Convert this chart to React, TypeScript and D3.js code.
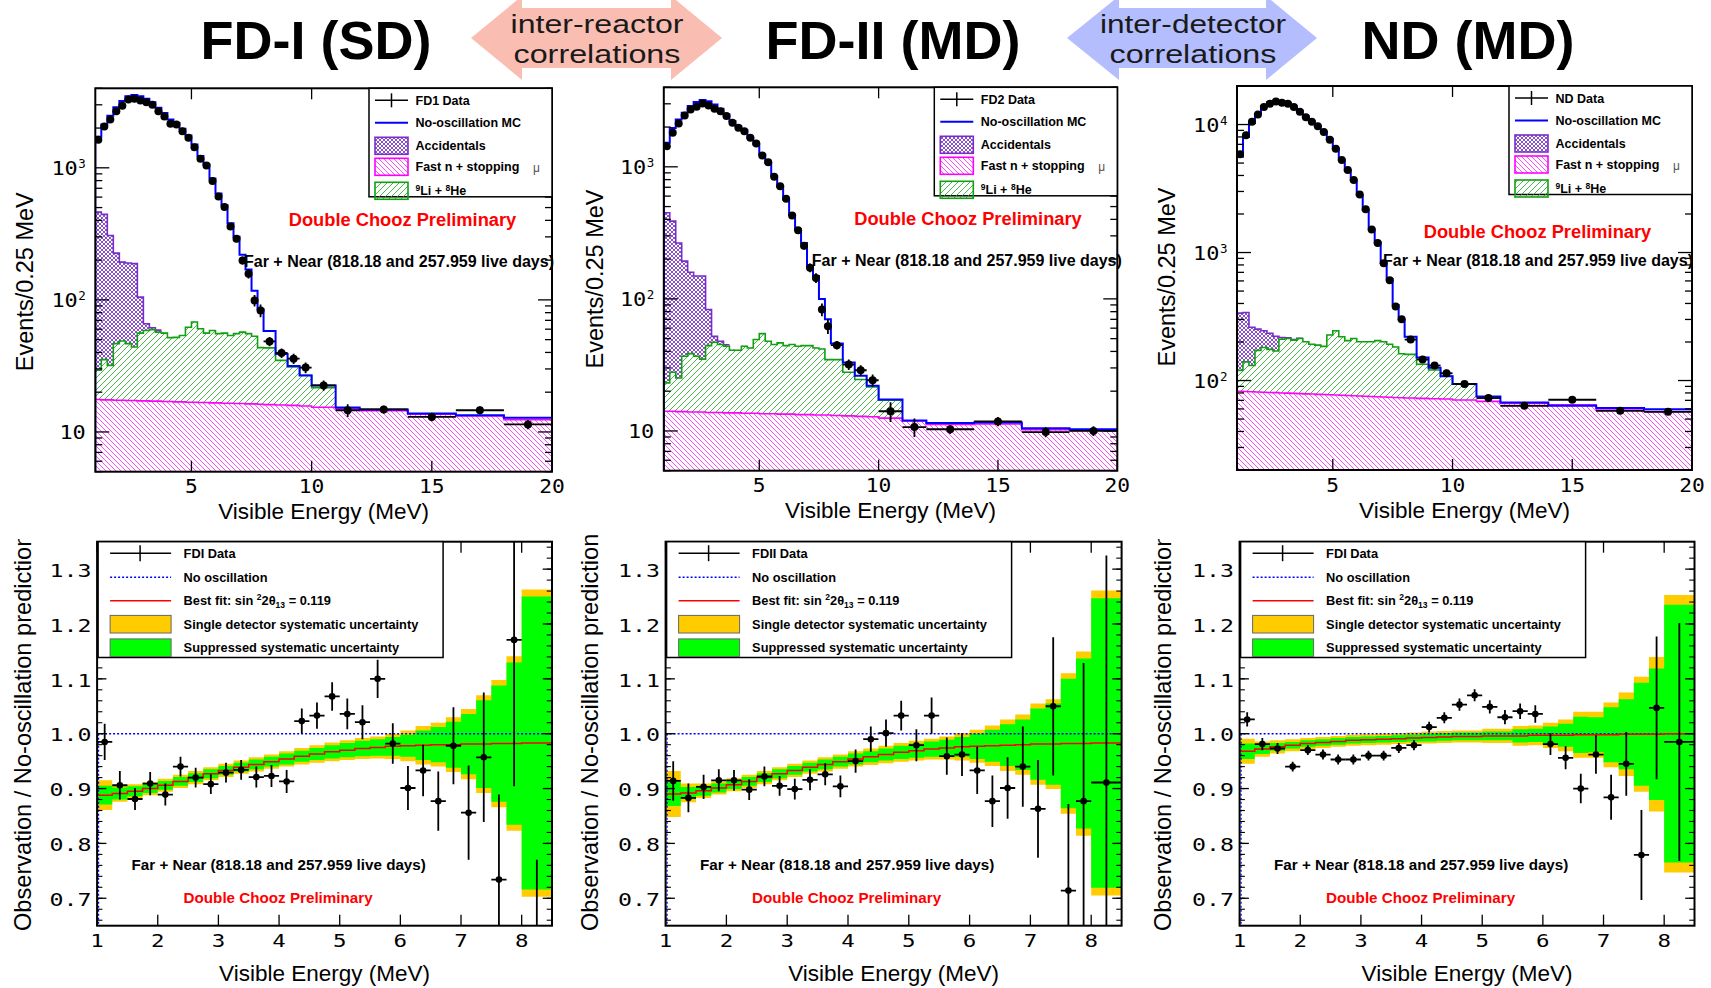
import React from "react";
import * as d3 from "d3";

const W = 1711;
const H = 988;
const SANS = "'Liberation Sans', Arial, Helvetica, sans-serif";
const MONO = "'DejaVu Sans Mono', 'Liberation Mono', monospace";

// ---------------- bin structure ----------------
const spectrumEdges = [1, 1.25, 1.5, 1.75, 2, 2.25, 2.5, 2.75, 3, 3.25, 3.5, 3.75, 4, 4.25, 4.5, 4.75, 5, 5.25, 5.5, 5.75, 6, 6.25, 6.5, 6.75, 7, 7.25, 7.5, 7.75, 8, 8.5, 9, 9.5, 10, 11, 12, 14, 16, 18, 20];
const ratioEdges = [1, 1.25, 1.5, 1.75, 2, 2.25, 2.5, 2.75, 3, 3.25, 3.5, 3.75, 4, 4.25, 4.5, 4.75, 5, 5.25, 5.5, 5.75, 6, 6.25, 6.5, 6.75, 7, 7.25, 7.5, 7.75, 8, 8.5];

const spectrumXTicks = [5, 10, 15, 20];
const ratioXTicks = [1, 2, 3, 4, 5, 6, 7, 8];
const ratioYTicks = [0.7, 0.8, 0.9, 1.0, 1.1, 1.2, 1.3];

// ---------------- FD-I spectrum ----------------
const fd1Data = [1630, 2055, 2323, 2685, 2945, 3288, 3328, 3228, 3138, 2997, 2685, 2446, 2152, 2128, 1893, 1686, 1433, 1170, 1041, 793, 607, 504, 360, 290, 199, 158, 99, 83, 48.5, 39.6, 35.9, 30.7, 22.5, 14.6, 14.8, 13.0, 14.6, 11.4];
const fd1Err = [40, 45, 48, 52, 54, 57, 58, 57, 56, 55, 52, 49, 46, 46, 44, 41, 38, 34, 32, 28, 25, 22, 19, 17, 14, 12.6, 10, 9.1, 3.9, 3.3, 3.2, 2.9, 2.0, 1.6, 1.0, 0.95, 1.0, 0.9];
const fd1MC = [1720, 2130, 2480, 2870, 3200, 3480, 3560, 3480, 3330, 3130, 2850, 2600, 2320, 2180, 1980, 1760, 1500, 1230, 1060, 830, 640, 520, 380, 300, 220, 170, 117, 85, 58, 39, 31.6, 26.8, 22.5, 15.3, 14.8, 13.8, 13.4, 12.8];
const fd1FastN = [17.6, 17.5, 17.5, 17.4, 17.4, 17.3, 17.3, 17.2, 17.2, 17.1, 17.1, 17.0, 17.0, 16.9, 16.9, 16.8, 16.8, 16.7, 16.7, 16.6, 16.6, 16.5, 16.5, 16.4, 16.4, 16.3, 16.3, 16.2, 16.1, 16.0, 15.9, 15.7, 15.4, 15.0, 14.5, 13.6, 13.2, 12.4];
const fd1LiHeLevel = [29.3, 35.3, 31.9, 46.6, 48.8, 46.6, 44, 56, 58.7, 59.5, 57, 56, 51.8, 52, 53.8, 62, 68, 60.5, 56, 58.7, 55.5, 56, 53.8, 55.5, 57, 55.5, 53, 43.5, 43.3, 34.8, 31, 26.9, 21.6, 15.0, 14.5, 13.6, 13.2, 12.4];
const fd1AccLevel = [462, 444, 307, 226, 193, 190, 188, 105, 66, 61.5, 59, 56.5, 52.2, 52.4, 54.2, 62.4, 68.4, 60.7, 56.2, 58.9, 55.6, 56.1, 53.9, 55.6, 57.1, 55.6, 53.1, 43.6, 43.4, 34.9, 31.1, 27.0, 21.7, 15.0, 14.5, 13.6, 13.2, 12.4];

// ---------------- FD-II spectrum ----------------
const fd2Data = [1434, 1811, 2128, 2449, 2718, 2850, 3020, 2917, 2750, 2640, 2420, 2155, 1972, 1862, 1660, 1503, 1219, 1085, 840, 714, 573, 428, 331, 253, 172, 144, 83, 62, 44.6, 31.8, 28.8, 24.2, 14.1, 10.7, 10.3, 11.8, 9.8, 10.0];
const fd2Err = [38, 43, 46, 49, 52, 53, 55, 54, 52, 51, 49, 46, 44, 43, 41, 39, 35, 33, 29, 27, 24, 21, 18, 16, 13, 12, 9.1, 7.9, 3.3, 2.9, 2.7, 2.5, 2.4, 1.7, 0.8, 0.95, 0.85, 0.85];
const fd2MC = [1520, 1970, 2280, 2570, 2885, 3090, 3200, 3140, 2965, 2750, 2490, 2220, 2030, 1895, 1660, 1476, 1240, 1072, 850, 714, 566, 435, 335, 265, 177, 149, 100, 70, 46, 33, 26.2, 22, 17.3, 12.0, 11.5, 11.6, 10.5, 10.3];
const fd2FastN = [14.1, 14.1, 14.0, 14.0, 13.9, 13.9, 13.9, 13.8, 13.8, 13.8, 13.7, 13.7, 13.7, 13.6, 13.6, 13.6, 13.5, 13.5, 13.5, 13.4, 13.4, 13.4, 13.3, 13.3, 13.3, 13.2, 13.2, 13.2, 13.1, 13.0, 12.9, 12.8, 12.5, 11.9, 11.2, 11.3, 10.2, 10.1];
const fd2LiHeLevel = [23.1, 27.8, 25.2, 36.8, 38.5, 36.8, 35, 44.3, 47, 45.1, 43.8, 40.8, 40.8, 43.8, 42.5, 49.2, 54.6, 47.8, 45.1, 46.4, 44.3, 45.1, 43.8, 44.3, 44.3, 42.5, 41.7, 34.7, 34.7, 27.8, 24.5, 21.5, 17.1, 11.9, 11.2, 11.3, 10.2, 10.1];
const fd2AccLevel = [449, 388, 265, 193, 159, 149, 149, 83, 52, 47.8, 45, 41.3, 41.2, 44.1, 42.8, 49.4, 54.8, 48, 45.3, 46.6, 44.5, 45.3, 44, 44.5, 44.5, 42.6, 41.8, 34.8, 34.8, 27.9, 24.6, 21.6, 17.2, 11.9, 11.2, 11.3, 10.2, 10.1];

// ---------------- ND spectrum ----------------
const ndData = [5870, 8240, 10500, 11990, 13700, 14560, 15100, 14830, 14560, 13700, 12590, 11420, 10500, 9710, 8740, 7620, 6470, 5290, 4415, 3680, 2837, 2175, 1511, 1185, 824, 608, 379, 301, 209, 146, 131, 114, 94, 73, 63.5, 70.8, 58, 57];
const ndErr = [77, 91, 102, 110, 117, 121, 123, 122, 121, 117, 112, 107, 102, 99, 93, 87, 80, 73, 66, 61, 53, 47, 39, 34, 29, 25, 19.5, 17.3, 10.2, 8.5, 8.1, 7.5, 4.8, 4.3, 2.8, 3.0, 2.7, 2.7];
const ndMC = [5600, 8000, 10300, 12100, 13900, 14900, 15300, 15100, 14700, 13900, 12800, 11600, 10600, 9800, 8800, 7700, 6500, 5300, 4400, 3650, 2800, 2150, 1520, 1200, 830, 620, 390, 300, 220, 151, 126, 108, 94, 75, 67.5, 63.5, 61, 59.7];
const ndFastN = [82.4, 82.0, 81.7, 81.4, 81.0, 80.7, 80.4, 80.0, 79.7, 79.4, 79.0, 78.7, 78.4, 78.0, 77.7, 77.4, 77.0, 76.7, 76.4, 76.0, 75.7, 75.4, 75.0, 74.7, 74.4, 74.0, 73.7, 73.4, 73.0, 72.5, 72.0, 71.7, 70.5, 68.7, 66.3, 64.7, 58.7, 57.3];
const ndLiHeLevel = [120, 140, 131, 172, 181, 175, 170, 210, 213, 207, 213, 201, 192, 189, 185, 227, 245, 220, 205, 213, 201, 201, 201, 205, 201, 192, 183, 162, 160, 134, 121, 108, 94, 68.7, 66.3, 64.7, 58.7, 57.3];
const ndAccLevel = [336, 340, 261, 252, 245, 234, 222, 217, 216, 209, 214, 202, 193, 190, 186, 228, 246, 221, 206, 214, 202, 202, 202, 206, 202, 193, 184, 163, 161, 135, 122, 109, 94.5, 68.7, 66.3, 64.7, 58.7, 57.3];

// ---------------- ratio plots ----------------
const fdiRatio = [0.985, 0.906, 0.881, 0.909, 0.889, 0.940, 0.920, 0.908, 0.929, 0.934, 0.921, 0.923, 0.913, 1.023, 1.033, 1.068, 1.036, 1.021, 1.100, 0.982, 0.901, 0.933, 0.877, 0.978, 0.856, 0.957, 0.734, 1.171, 0.55];
const fdiRatioErr = [0.033, 0.026, 0.020, 0.021, 0.020, 0.018, 0.018, 0.018, 0.018, 0.018, 0.019, 0.020, 0.021, 0.023, 0.024, 0.026, 0.028, 0.031, 0.035, 0.037, 0.040, 0.047, 0.054, 0.070, 0.086, 0.118, 0.155, 0.267, 0.22];
const fdiFit = [0.888, 0.891, 0.895, 0.900, 0.906, 0.913, 0.920, 0.927, 0.933, 0.939, 0.944, 0.949, 0.954, 0.959, 0.963, 0.967, 0.970, 0.973, 0.975, 0.977, 0.978, 0.979, 0.980, 0.980, 0.981, 0.981, 0.982, 0.982, 0.983];
const fdiSingleSyst = [0.027, 0.015, 0.013, 0.012, 0.012, 0.012, 0.012, 0.012, 0.012, 0.012, 0.013, 0.013, 0.014, 0.015, 0.016, 0.017, 0.018, 0.019, 0.020, 0.023, 0.028, 0.035, 0.040, 0.050, 0.064, 0.089, 0.116, 0.159, 0.280];
const fdiSuppSyst = [0.017, 0.011, 0.009, 0.008, 0.008, 0.008, 0.008, 0.008, 0.008, 0.008, 0.009, 0.009, 0.010, 0.010, 0.011, 0.012, 0.013, 0.014, 0.015, 0.017, 0.020, 0.027, 0.032, 0.042, 0.055, 0.080, 0.106, 0.148, 0.267];

const fdiiRatio = [0.914, 0.883, 0.903, 0.915, 0.915, 0.898, 0.922, 0.905, 0.899, 0.916, 0.926, 0.904, 0.950, 0.990, 1.001, 1.033, 0.979, 1.033, 0.959, 0.962, 0.933, 0.877, 0.901, 0.940, 0.863, 1.050, 0.714, 0.877, 0.911];
const fdiiRatioErr = [0.036, 0.026, 0.022, 0.020, 0.019, 0.019, 0.018, 0.018, 0.019, 0.019, 0.020, 0.020, 0.021, 0.023, 0.025, 0.027, 0.029, 0.033, 0.034, 0.039, 0.043, 0.047, 0.056, 0.073, 0.089, 0.126, 0.158, 0.252, 0.414];
const fdiiFit = [0.890, 0.892, 0.896, 0.901, 0.907, 0.913, 0.920, 0.927, 0.933, 0.939, 0.944, 0.949, 0.954, 0.958, 0.962, 0.966, 0.969, 0.972, 0.974, 0.976, 0.977, 0.978, 0.979, 0.980, 0.981, 0.981, 0.982, 0.982, 0.983];
const fdiiSingleSyst = [0.042, 0.017, 0.013, 0.012, 0.012, 0.012, 0.012, 0.012, 0.012, 0.012, 0.013, 0.013, 0.014, 0.015, 0.016, 0.017, 0.018, 0.019, 0.021, 0.025, 0.030, 0.037, 0.047, 0.055, 0.074, 0.082, 0.128, 0.168, 0.278];
const fdiiSuppSyst = [0.022, 0.011, 0.009, 0.008, 0.008, 0.008, 0.008, 0.008, 0.008, 0.008, 0.009, 0.009, 0.010, 0.010, 0.011, 0.012, 0.013, 0.014, 0.015, 0.018, 0.023, 0.029, 0.038, 0.046, 0.065, 0.074, 0.118, 0.155, 0.264];

const ndRatio = [1.026, 0.981, 0.973, 0.940, 0.970, 0.962, 0.953, 0.953, 0.960, 0.960, 0.974, 0.979, 1.012, 1.029, 1.053, 1.070, 1.049, 1.030, 1.041, 1.036, 0.981, 0.956, 0.900, 0.962, 0.884, 0.945, 0.779, 1.047, 0.985];
const ndRatioErr = [0.013, 0.011, 0.010, 0.009, 0.009, 0.009, 0.009, 0.009, 0.009, 0.009, 0.009, 0.009, 0.010, 0.010, 0.011, 0.011, 0.012, 0.013, 0.014, 0.016, 0.020, 0.021, 0.027, 0.035, 0.041, 0.058, 0.082, 0.130, 0.217];
const ndFit = [0.968, 0.972, 0.976, 0.979, 0.982, 0.984, 0.986, 0.988, 0.989, 0.990, 0.991, 0.992, 0.993, 0.994, 0.995, 0.995, 0.996, 0.996, 0.996, 0.997, 0.997, 0.997, 0.998, 0.998, 0.998, 0.999, 0.999, 0.999, 1.000];
const ndSingleSyst = [0.023, 0.014, 0.012, 0.011, 0.010, 0.010, 0.010, 0.010, 0.010, 0.010, 0.010, 0.010, 0.011, 0.011, 0.011, 0.011, 0.013, 0.013, 0.018, 0.018, 0.023, 0.029, 0.042, 0.042, 0.059, 0.076, 0.105, 0.141, 0.253];
const ndSuppSyst = [0.014, 0.009, 0.007, 0.006, 0.006, 0.006, 0.006, 0.006, 0.006, 0.006, 0.006, 0.006, 0.007, 0.007, 0.007, 0.007, 0.008, 0.008, 0.012, 0.012, 0.016, 0.021, 0.033, 0.032, 0.050, 0.064, 0.094, 0.120, 0.235];

const FAR_NEAR = "Far + Near (818.18 and 257.959 live days)";
const PRELIM = "Double Chooz Preliminary";

function Mono({ x, y, s, size, per, anchor }: any) {
  return (
    <text x={x} y={y} fontFamily={MONO} fontSize={size} textAnchor={anchor} textLength={s.length * per} lengthAdjust="spacingAndGlyphs" fill="#000">
      {s}
    </text>
  );
}

function TopPanel(p: any) {
  const { left, right, top, bottom } = p;
  const x = d3.scaleLinear().domain([1, 20]).range([left, right]);
  const y = d3.scaleLog().domain([p.yMin, p.yMax]).range([bottom, top]);
  const n = p.data.length;
  const area = d3.area<number[]>().x((d) => x(d[0])).y0((d) => y(d[1])).y1((d) => y(d[2])).curve(d3.curveStepAfter);
  const line = d3.line<number[]>().x((d) => x(d[0])).y((d) => y(d[1])).curve(d3.curveStepAfter);
  const bandPts = (lo: number[] | null, hi: number[]) =>
    spectrumEdges.map((e, i) => {
      const k = Math.min(i, n - 1);
      return [e, lo ? lo[k] : p.yMin, hi[k]];
    });
  const stepLine = (vals: number[], nb: number, fromBottom = false) => {
    const pts = spectrumEdges.slice(0, nb + 1).map((e, i) => [e, vals[Math.min(i, nb - 1)]]);
    if (fromBottom) pts.unshift([spectrumEdges[0], p.yMin]);
    return line(pts) || "";
  };
  const clipId = `clip-${p.id}`;
  const logTicks: { v: number; major: boolean }[] = [];
  for (let d = Math.floor(Math.log10(p.yMin)); d <= Math.ceil(Math.log10(p.yMax)); d++) {
    for (let m = 1; m <= 9; m++) {
      const v = m * Math.pow(10, d);
      if (v >= p.yMin && v <= p.yMax) logTicks.push({ v, major: m === 1 });
    }
  }
  const R = right;
  const T = top;
  const rows = [12, 34.5, 57.5, 78.5, 102.5].map((o) => T + o);
  const symX0 = R - 177;
  const symX1 = R - 144;
  const txtX = R - 136.5;
  const lfs = 12.5;
  return (
    <g>
      <defs>
        <clipPath id={clipId}>
          <rect x={left} y={top} width={right - left} height={bottom - top} />
        </clipPath>
      </defs>
      <g clipPath={`url(#${clipId})`}>
        <path d={area(bandPts(null, p.fastN)) || ""} fill="url(#hatchMag)" />
        <path d={area(bandPts(p.fastN, p.liHe)) || ""} fill="url(#hatchGreen)" />
        <path d={area(bandPts(p.liHe, p.acc)) || ""} fill="url(#crossPurple)" />
        <path d={stepLine(p.fastN, n)} fill="none" stroke="#ff00ff" strokeWidth={1.6} />
        <path d={stepLine(p.acc, 11)} fill="none" stroke="#7a2cc8" strokeWidth={1.6} />
        <path d={stepLine(p.liHe, 33)} fill="none" stroke="#10a010" strokeWidth={1.6} />
        <path d={stepLine(p.mc, n, true)} fill="none" stroke="#0000ff" strokeWidth={2} />
        {p.data.map((v: number, i: number) => {
          const cx = x((spectrumEdges[i] + spectrumEdges[i + 1]) / 2);
          const cy = y(v);
          return (
            <g key={i}>
              <line x1={x(spectrumEdges[i])} x2={x(spectrumEdges[i + 1])} y1={cy} y2={cy} stroke="#000" strokeWidth={1.8} />
              <line x1={cx} x2={cx} y1={y(v + p.err[i])} y2={y(Math.max(v - p.err[i], p.yMin))} stroke="#000" strokeWidth={1.8} />
              <circle cx={cx} cy={cy} r={4} fill="#000" />
            </g>
          );
        })}
      </g>
      {/* ticks */}
      {spectrumXTicks.map((t) => (
        <g key={`xt${t}`}>
          <line x1={x(t)} x2={x(t)} y1={bottom} y2={bottom - 11} stroke="#000" strokeWidth={1.3} />
          <line x1={x(t)} x2={x(t)} y1={top} y2={top + 11} stroke="#000" strokeWidth={1.3} />
          <Mono x={x(t)} y={bottom + 21.5} s={String(t)} size={19} per={12.8} anchor="middle" />
        </g>
      ))}
      {logTicks.map((t, i) => {
        const yy = y(t.v);
        const len = t.major ? 14 : 7;
        return (
          <g key={`yt${i}`}>
            <line x1={left} x2={left + len} y1={yy} y2={yy} stroke="#000" strokeWidth={1.3} />
            <line x1={right} x2={right - len} y1={yy} y2={yy} stroke="#000" strokeWidth={1.3} />
          </g>
        );
      })}
      {p.decades.map((d: number) => {
        const yy = y(Math.pow(10, d));
        if (d === 1) return <Mono key={`yl${d}`} x={left - 9.5} y={yy + 7} s="10" size={19.5} per={13.2} anchor="end" />;
        return (
          <g key={`yl${d}`}>
            <Mono x={left - 17.5} y={yy + 7} s="10" size={19.5} per={13.2} anchor="end" />
            <text x={left - 17} y={yy + 0.5} fontFamily={MONO} fontSize={12.5} fill="#000">
              {String(d)}
            </text>
          </g>
        );
      })}
      <rect x={left} y={top} width={right - left} height={bottom - top} fill="none" stroke="#000" strokeWidth={2} />
      {/* titles */}
      <text x={(left + right) / 2} y={bottom + 47.5} textAnchor="middle" fontSize={22.5} fill="#000">
        Visible Energy (MeV)
      </text>
      <text transform={`translate(${p.yTitleX},${p.yTitleY}) rotate(-90)`} textAnchor="middle" fontSize={23.5} fill="#000">
        Events/0.25 MeV
      </text>
      <text x={p.dcpX} y={p.dcpY} textAnchor="middle" fontSize={18.3} fontWeight="bold" fill="#ff0000">
        {PRELIM}
      </text>
      <text x={p.farX} y={p.farY} fontSize={16} fontWeight="bold" fill="#000">
        {FAR_NEAR}
      </text>
      {/* legend */}
      <rect x={R - 183} y={T} width={183} height={108.5} fill="#fff" stroke="#000" strokeWidth={1.5} />
      <line x1={symX0} x2={symX1} y1={rows[0]} y2={rows[0]} stroke="#000" strokeWidth={1.5} />
      <line x1={(symX0 + symX1) / 2} x2={(symX0 + symX1) / 2} y1={rows[0] - 7} y2={rows[0] + 7} stroke="#000" strokeWidth={1.5} />
      <line x1={symX0} x2={symX1} y1={rows[1]} y2={rows[1]} stroke="#0000ff" strokeWidth={2} />
      <rect x={symX0} y={rows[2] - 8.5} width={symX1 - symX0} height={17} fill="url(#crossPurple)" stroke="#7a2cc8" strokeWidth={1.6} />
      <rect x={symX0} y={rows[3] - 8.5} width={symX1 - symX0} height={17} fill="url(#hatchMag)" stroke="#ff00ff" strokeWidth={1.6} />
      <rect x={symX0} y={rows[4] - 8.5} width={symX1 - symX0} height={17} fill="url(#hatchGreen)" stroke="#10a010" strokeWidth={1.6} />
      <g fontSize={lfs} fontWeight="bold" fill="#000">
        <text x={txtX} y={rows[0] + 4.5}>{p.dataLabel}</text>
        <text x={txtX} y={rows[1] + 4.5}>No-oscillation MC</text>
        <text x={txtX} y={rows[2] + 4.5}>Accidentals</text>
        <text x={txtX} y={rows[3] + 4.5}>Fast n + stopping</text>
        <text x={txtX} y={rows[4] + 4.5}>
          <tspan dy={-4} fontSize={8.5}>9</tspan>
          <tspan dy={4}>Li + </tspan>
          <tspan dy={-4} fontSize={8.5}>8</tspan>
          <tspan dy={4}>He</tspan>
        </text>
      </g>
      <text x={R - 19} y={rows[3] + 5} fontSize={12} fill="#555" fontFamily={SANS}>
        μ
      </text>
    </g>
  );
}

function BottomPanel(p: any) {
  const { left, right, top, bottom } = p;
  const x = d3.scaleLinear().domain([1, 8.5]).range([left, right]);
  const y = d3.scaleLinear().domain([0.65, 1.35]).range([bottom, top]);
  const nb = p.fit.length;
  const area = d3.area<number[]>().x((d) => x(d[0])).y0((d) => y(d[1])).y1((d) => y(d[2])).curve(d3.curveStepAfter);
  const line = d3.line<number[]>().x((d) => x(d[0])).y((d) => y(d[1])).curve(d3.curveStepAfter);
  const band = (half: number[]) =>
    ratioEdges.map((e, i) => {
      const k = Math.min(i, nb - 1);
      return [e, p.fit[k] - half[k], p.fit[k] + half[k]];
    });
  const fitPts = ratioEdges.map((e, i) => [e, p.fit[Math.min(i, nb - 1)]]);
  const clipId = `clip-${p.id}`;
  const minorTicks = d3.range(0.66, 1.345, 0.02);
  const L = left;
  const T = top;
  const rows = [11.5, 35.5, 59, 82.5, 106].map((o) => T + o);
  const s0 = L + 13;
  const s1 = L + 74;
  const tx = L + 86.5;
  return (
    <g>
      <defs>
        <clipPath id={clipId}>
          <rect x={left} y={top} width={right - left} height={bottom - top} />
        </clipPath>
      </defs>
      <g clipPath={`url(#${clipId})`}>
        <path d={area(band(p.single)) || ""} fill="#ffcc00" />
        <path d={area(band(p.supp)) || ""} fill="#00ff00" />
        <line x1={left} x2={right} y1={y(1)} y2={y(1)} stroke="#0000ff" strokeWidth={1.5} strokeDasharray="2,2" />
        <line x1={left + 1.5} x2={left + 1.5} y1={y(1)} y2={bottom} stroke="#0000ff" strokeWidth={1.2} strokeDasharray="2,2" />
        <path d={line(fitPts) || ""} fill="none" stroke="#ff0000" strokeWidth={1.5} />
        {p.ratio.map((v: number, i: number) => {
          const cx = x((ratioEdges[i] + ratioEdges[i + 1]) / 2);
          const cy = y(v);
          return (
            <g key={i}>
              <line x1={x(ratioEdges[i])} x2={x(ratioEdges[i + 1])} y1={cy} y2={cy} stroke="#000" strokeWidth={1.8} />
              <line x1={cx} x2={cx} y1={y(v + p.err[i])} y2={y(v - p.err[i])} stroke="#000" strokeWidth={1.8} />
              <circle cx={cx} cy={cy} r={3.3} fill="#000" />
            </g>
          );
        })}
      </g>
      {ratioXTicks.map((t) => (
        <g key={`xt${t}`}>
          <line x1={x(t)} x2={x(t)} y1={bottom} y2={bottom - 11} stroke="#000" strokeWidth={1.3} />
          <line x1={x(t)} x2={x(t)} y1={top} y2={top + 11} stroke="#000" strokeWidth={1.3} />
          <Mono x={x(t)} y={bottom + 21.5} s={String(t)} size={18.5} per={13.5} anchor="middle" />
        </g>
      ))}
      {minorTicks.map((t, i) => (
        <g key={`mt${i}`}>
          <line x1={left} x2={left + 5.3} y1={y(t)} y2={y(t)} stroke="#000" strokeWidth={1.1} />
          <line x1={right} x2={right - 5.3} y1={y(t)} y2={y(t)} stroke="#000" strokeWidth={1.1} />
        </g>
      ))}
      {ratioYTicks.map((t) => (
        <g key={`yt${t}`}>
          <line x1={left} x2={left + 9.3} y1={y(t)} y2={y(t)} stroke="#000" strokeWidth={1.3} />
          <line x1={right} x2={right - 9.3} y1={y(t)} y2={y(t)} stroke="#000" strokeWidth={1.3} />
          <Mono x={left - 5.5} y={y(t) + 7.7} s={d3.format(".1f")(t)} size={18.5} per={14} anchor="end" />
        </g>
      ))}
      <rect x={left} y={top} width={right - left} height={bottom - top} fill="none" stroke="#000" strokeWidth={2} />
      <text x={(left + right) / 2} y={981} textAnchor="middle" fontSize={22.5} fill="#000">
        Visible Energy (MeV)
      </text>
      <g clipPath={p.clipTitle ? "url(#clipTitleY)" : undefined}>
        <text transform={`translate(${p.yTitleX},931) rotate(-90)`} textAnchor="start" fontSize={23.6} fill="#000">
          Observation / No-oscillation prediction
        </text>
      </g>
      <text x={left + 34.5} y={870} fontSize={15.2} fontWeight="bold" fill="#000">
        {FAR_NEAR}
      </text>
      <text x={left + 86.5} y={903} fontSize={15.2} fontWeight="bold" fill="#ff0000">
        {PRELIM}
      </text>
      {/* legend */}
      <rect x={L + 1} y={T} width={345} height={115.8} fill="#fff" stroke="#000" strokeWidth={1.5} />
      <line x1={s0} x2={s1} y1={rows[0]} y2={rows[0]} stroke="#000" strokeWidth={1.5} />
      <line x1={L + 43} x2={L + 43} y1={rows[0] - 8} y2={rows[0] + 8} stroke="#000" strokeWidth={1.5} />
      <line x1={s0} x2={s1} y1={rows[1]} y2={rows[1]} stroke="#0000ff" strokeWidth={1.5} strokeDasharray="2,2" />
      <line x1={s0} x2={s1} y1={rows[2]} y2={rows[2]} stroke="#ff0000" strokeWidth={1.5} />
      <rect x={s0} y={rows[3] - 8.8} width={s1 - s0} height={17.6} fill="#ffcc00" stroke="#666" strokeWidth={1} />
      <rect x={s0} y={rows[4] - 8.8} width={s1 - s0} height={17.6} fill="#00ff00" stroke="#666" strokeWidth={1} />
      <g fontSize={12.8} fontWeight="bold" fill="#000">
        <text x={tx} y={rows[0] + 4.5}>{p.dataLabel}</text>
        <text x={tx} y={rows[1] + 4.5}>No oscillation</text>
        <text x={tx} y={rows[2] + 4.5}>
          Best fit: sin <tspan dy={-5} fontSize={8.5}>2</tspan>
          <tspan dy={5}>2θ</tspan>
          <tspan dy={3} fontSize={8.5}>13</tspan>
          <tspan dy={-3}> = 0.119</tspan>
        </text>
        <text x={tx} y={rows[3] + 4.5}>Single detector systematic uncertainty</text>
        <text x={tx} y={rows[4] + 4.5}>Suppressed systematic uncertainty</text>
      </g>
    </g>
  );
}

function Arrow({ tipL, headL, headR, tipR, fill, lines, cx }: any) {
  const yc = 38;
  const pts = [
    [tipL, yc],
    [headL, yc - 42],
    [headL, yc - 30],
    [headR, yc - 30],
    [headR, yc - 42],
    [tipR, yc],
    [headR, yc + 42],
    [headR, yc + 30],
    [headL, yc + 30],
    [headL, yc + 42],
  ];
  return (
    <g>
      <polygon points={pts.map((q) => q.join(",")).join(" ")} fill={fill} />
      <text x={cx} y={33} textAnchor="middle" fontSize={26} fill="#1a1a1a" textLength={lines[0].length * 13.3} lengthAdjust="spacingAndGlyphs">
        {lines[0]}
      </text>
      <text x={cx} y={63} textAnchor="middle" fontSize={26} fill="#1a1a1a" textLength={167} lengthAdjust="spacingAndGlyphs">
        {lines[1]}
      </text>
    </g>
  );
}

export default function App() {
  return (
    <svg
      width={W}
      height={H}
      viewBox={`0 0 ${W} ${H}`}
      style={{ position: "absolute", left: 0, top: 0, display: "block", background: "#fff" }}
      fontFamily={SANS}
    >
      <defs>
        <pattern id="hatchMag" patternUnits="userSpaceOnUse" width="5" height="5">
          <path d="M-1,-1 L6,6 M-1,4 L1,6 M4,-1 L6,1" stroke="#ff00ff" strokeWidth="0.7" />
        </pattern>
        <pattern id="hatchGreen" patternUnits="userSpaceOnUse" width="6" height="6">
          <path d="M-1,7 L7,-1 M-1,1 L1,-1 M5,7 L7,5" stroke="#22a022" strokeWidth="0.8" />
        </pattern>
        <pattern id="crossPurple" patternUnits="userSpaceOnUse" width="4" height="4">
          <path d="M-1,-1 L5,5 M-1,3 L1,5 M3,-1 L5,1 M-1,5 L5,-1 M-1,1 L1,-1 M3,5 L5,3" stroke="#6a24b8" strokeWidth="0.8" />
        </pattern>
        <clipPath id="clipTitleY">
          <rect x={0} y={539} width={W} height={H - 539} />
        </clipPath>
      </defs>
      <rect x={0} y={0} width={W} height={H} fill="#fff" />

      {/* header */}
      <g fontWeight="bold" fontSize={54} fill="#000" textAnchor="middle">
        <text x={316} y={59}>FD-I (SD)</text>
        <text x={893} y={59}>FD-II (MD)</text>
        <text x={1468} y={59}>ND (MD)</text>
      </g>
      <Arrow tipL={471} headL={522} headR={671} tipR={722} fill="#fabdb2" lines={["inter-reactor", "correlations"]} cx={597} />
      <Arrow tipL={1067} headL={1119} headR={1266} tipR={1317} fill="#b4beff" lines={["inter-detector", "correlations"]} cx={1193} />

      <TopPanel id="tl" left={95.3} right={552} top={88.3} bottom={471.7} yMin={5} yMax={4000} decades={[1, 2, 3]}
        data={fd1Data} err={fd1Err} mc={fd1MC} fastN={fd1FastN} liHe={fd1LiHeLevel} acc={fd1AccLevel}
        dataLabel="FD1 Data" yTitleX={33} yTitleY={281.7} farX={244} farY={267} dcpX={402.5} dcpY={225.5} />
      <TopPanel id="tm" left={663.8} right={1117.3} top={87.3} bottom={470.7} yMin={5} yMax={4000} decades={[1, 2, 3]}
        data={fd2Data} err={fd2Err} mc={fd2MC} fastN={fd2FastN} liHe={fd2LiHeLevel} acc={fd2AccLevel}
        dataLabel="FD2 Data" yTitleX={603} yTitleY={279} farX={811.8} farY={266} dcpX={968} dcpY={224.5} />
      <TopPanel id="tr" left={1237} right={1692} top={86} bottom={470} yMin={20} yMax={20000} decades={[2, 3, 4]}
        data={ndData} err={ndErr} mc={ndMC} fastN={ndFastN} liHe={ndLiHeLevel} acc={ndAccLevel}
        dataLabel="ND Data" yTitleX={1175} yTitleY={277} farX={1383} farY={266} dcpX={1537.5} dcpY={238} />

      <BottomPanel id="bl" left={97.1} right={552} top={541.7} bottom={925.7}
        ratio={fdiRatio} err={fdiRatioErr} fit={fdiFit} single={fdiSingleSyst} supp={fdiSuppSyst}
        dataLabel="FDI Data" yTitleX={30.5} clipTitle={true} />
      <BottomPanel id="bm" left={665.6} right={1121.6} top={541.7} bottom={925.7}
        ratio={fdiiRatio} err={fdiiRatioErr} fit={fdiiFit} single={fdiiSingleSyst} supp={fdiiSuppSyst}
        dataLabel="FDII Data" yTitleX={597.5} clipTitle={false} />
      <BottomPanel id="br" left={1239.6} right={1694.5} top={541.7} bottom={925.7}
        ratio={ndRatio} err={ndRatioErr} fit={ndFit} single={ndSingleSyst} supp={ndSuppSyst}
        dataLabel="FDI Data" yTitleX={1171} clipTitle={true} />
    </svg>
  );
}
